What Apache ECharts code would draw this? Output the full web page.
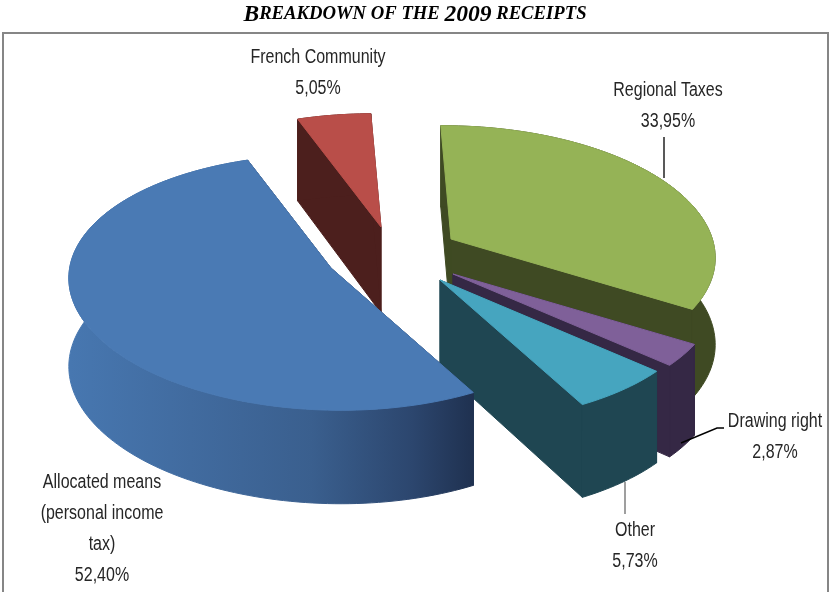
<!DOCTYPE html>
<html>
<head>
<meta charset="utf-8">
<style>html,body{margin:0;padding:0;background:#fff}#main{width:830px;height:592px}</style>
<script src="https://cdn.jsdelivr.net/npm/echarts@6/dist/echarts.min.js"></script>
</head>
<body>
<div id="main"></div>
<script>
// clockwise, starting with the green slice
var sliceNames = ['Regional Taxes', 'Drawing right', 'Other', 'Allocated means', 'French Community'];
var sliceValues = [33.95, 2.87, 5.73, 52.40, 5.05];

// label lines, the percentage is added from sliceValues
var labelLines = [
    ['Regional Taxes'],
    ['Drawing right'],
    ['Other'],
    ['Allocated means', '(personal income', 'tax)'],
    ['French Community']
];

// exploded slices: where each point of the slice sits on the page, and the colours
var sliceLayout = [
    {apex: [451, 239], depth: 86, top: '#95b356', wall: '#3f4a23', label: [668, 90]},
    {apex: [453, 274], depth: 88, top: '#7f6099', wall: '#352845', label: [775, 421]},
    {apex: [440, 280], depth: 88, top: '#46a5bf', wall: '#1f4652', label: [635, 530]},
    {apex: [331, 268], depth: 88, top: '#4a7ab4', wall: '#1f3050', label: [102, 482]},
    {apex: [381, 227], depth: 86, top: '#b94e49', wall: '#4c1f1d', label: [318, 57]}
];
var drawOrder = [4, 0, 1, 2, 3];
var leaders = [
    [[664, 137], [664, 178], '#222'],
    [[681, 443], [717, 428], [724, 428], '#000'],
    [[625, 482], [625, 514], '#7f7f7f']
];

// projection of the pie plane on the page
var axisA = [128, 112];
var axisB = [-228, 58];
var perspective = 0.0009;
var labelFont = '"Liberation Sans", sans-serif';

function project(apex, t, depth) {
    var vx = Math.cos(t) * axisA[0] + Math.sin(t) * axisB[0];
    var vy = Math.cos(t) * axisA[1] + Math.sin(t) * axisB[1];
    var w = 1 - perspective * vy;
    return {x: apex[0] + vx / w, y: apex[1] + vy / w, d: depth / Math.sqrt(w)};
}

function arcPoints(lay, t0, t1) {
    var pts = [];
    var n = Math.max(8, Math.ceil(Math.abs(t1 - t0) * 40));
    for (var i = 0; i <= n; i++) {
        pts.push(project(lay.apex, t0 + (t1 - t0) * i / n, lay.depth));
    }
    return pts;
}

// angle of the blue slice's first edge is t = 0, so the sum before it is the offset
var total = sliceValues.reduce(function (a, b) { return a + b; }, 0);
var offset = -(sliceValues[0] + sliceValues[1] + sliceValues[2]);

function angleOf(sum) {
    return (sum + offset) / total * Math.PI * 2;
}

var starts = [];
sliceValues.reduce(function (sum, v, i) {
    starts[i] = sum;
    return sum + v;
}, 0);

function poly(pts, fill, z) {
    return {
        type: 'polygon',
        z2: z,
        shape: {points: pts},
        style: {fill: fill, stroke: fill, lineWidth: 1}
    };
}

function renderSlice(params, api) {
    var idx = api.value(0);
    var value = api.value(1);
    var lay = sliceLayout[idx];
    var z = drawOrder.indexOf(idx) * 10;
    var t0 = angleOf(starts[idx]);
    var t1 = angleOf(starts[idx] + value);
    var arc = arcPoints(lay, t0, t1);
    var children = [];
    var apexP = lay.apex;
    var apexD = lay.depth;

    var first = arc[0];
    var last = arc[arc.length - 1];
    children.push(poly([apexP, [first.x, first.y], [first.x, first.y + first.d], [apexP[0], apexP[1] + apexD]], lay.wall, z));
    children.push(poly([apexP, [last.x, last.y], [last.x, last.y + last.d], [apexP[0], apexP[1] + apexD]], lay.wall, z));

    var outer = arc.map(function (p) { return [p.x, p.y]; });
    var lower = arc.map(function (p) { return [p.x, p.y + p.d]; }).reverse();
    var wallFill = lay.wall;
    if (idx === 3) {
        wallFill = {
            type: 'linear', x: 70, y: 0, x2: 473, y2: 0, global: true,
            colorStops: [
                {offset: 0, color: '#4777b0'},
                {offset: 0.3, color: '#416b9f'},
                {offset: 0.6, color: '#3a5f8e'},
                {offset: 0.85, color: '#2c466e'},
                {offset: 1, color: '#1f3150'}
            ]
        };
    }
    children.push(poly(outer.concat(lower), wallFill, z + 1));
    children.push(poly([apexP].concat(outer), lay.top, z + 2));

    return {type: 'group', children: children};
}

function renderLabels() {
    var children = [];
    labelLines.forEach(function (lines, i) {
        var all = lines.concat([sliceValues[i].toFixed(2).replace('.', ',') + '%']);
        all.forEach(function (line, j) {
            children.push({
                type: 'text',
                z2: 100,
                x: sliceLayout[i].label[0],
                y: sliceLayout[i].label[1] + j * 31,
                scaleX: 0.8,
                style: {
                    x: 0,
                    y: 0,
                    text: line,
                    fill: '#262626',
                    font: '20px ' + labelFont,
                    align: 'center',
                    verticalAlign: 'middle'
                }
            });
        });
    });
    leaders.forEach(function (l) {
        children.push({
            type: 'polyline',
            z2: 90,
            shape: {points: l.slice(0, l.length - 1)},
            style: {stroke: l[l.length - 1], lineWidth: 1.5, fill: 'none'}
        });
    });
    return {type: 'group', children: children};
}

var chart = echarts.init(document.getElementById('main'));
chart.setOption({
    animation: false,
    backgroundColor: '#fff',
    title: {
        left: 'center',
        top: -2,
        text: '{c|B}{s|REAKDOWN OF THE }{c|2009}{s| RECEIPTS}',
        textStyle: {
            rich: {
                c: {fontFamily: 'Liberation Serif', fontStyle: 'italic', fontWeight: 'bold', fontSize: 23.5, color: '#000'},
                s: {fontFamily: 'Liberation Serif', fontStyle: 'italic', fontWeight: 'bold', fontSize: 18.7, color: '#000'}
            }
        }
    },
    graphic: [{
        type: 'rect',
        silent: true,
        shape: {x: 3, y: 33, width: 825, height: 570},
        style: {fill: '#fff', stroke: '#868686', lineWidth: 2},
        z: -1
    }],
    series: [{
        type: 'custom',
        coordinateSystem: 'none',
        renderItem: renderSlice,
        data: sliceValues.map(function (v, i) { return {name: sliceNames[i], value: [i, v]}; })
    }, {
        type: 'custom',
        coordinateSystem: 'none',
        renderItem: renderLabels,
        z: 5,
        data: [[0]]
    }]
});
</script>
</body>
</html>
